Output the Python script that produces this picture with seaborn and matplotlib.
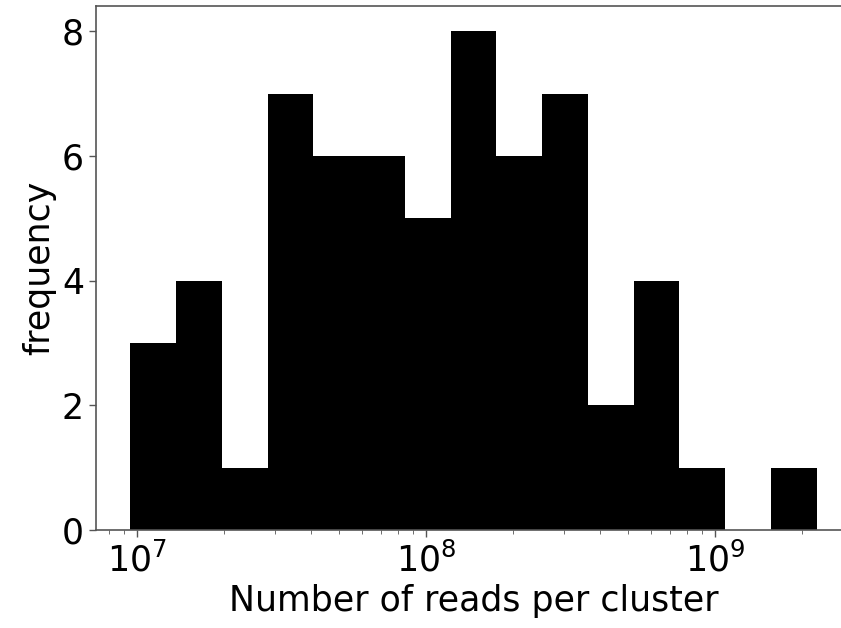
import numpy as np
import pandas as pd
import matplotlib
matplotlib.use("Agg")
import matplotlib.pyplot as plt
import seaborn as sns

# Histogram data (log-spaced bins)
log_min = 6.976   # log10 of smallest value (~9.5e6)
log_max = 9.353   # log10 of largest value (~2.25e9)
n_bins = 15
counts = [3, 4, 1, 7, 6, 6, 5, 8, 6, 7, 2, 4, 1, 0, 1]

edges_log = np.linspace(log_min, log_max, n_bins + 1)
centers = 10 ** ((edges_log[:-1] + edges_log[1:]) / 2)
df = pd.DataFrame({"reads": centers, "count": counts})

sns.set_style("ticks")
plt.rcParams["font.family"] = ["DejaVu Sans"]
plt.rcParams["text.color"] = "black"
plt.rcParams["axes.labelcolor"] = "black"
plt.rcParams["xtick.labelcolor"] = "black"
plt.rcParams["ytick.labelcolor"] = "black"

fig = plt.figure(figsize=(8.41, 6.28), dpi=100)
ax = fig.add_axes([0.114, 0.156, 0.898, 0.834])

sns.histplot(data=df, x="reads", weights="count", bins=n_bins,
             binrange=(log_min, log_max), log_scale=True, color="black",
             alpha=1, edgecolor="black", linewidth=0, ax=ax)

ax.set_xlabel("Number of reads per cluster", fontsize=25, color="black")
ax.set_ylabel("frequency", fontsize=25, color="black")
ax.tick_params(axis="both", which="major", labelsize=25, length=5, width=1,
               color="#555555", labelcolor="black")
ax.tick_params(axis="x", which="minor", length=3, color="#555555")
ax.set_yticks([0, 2, 4, 6, 8])
for s in ax.spines.values():
    s.set_color("#555555")
    s.set_linewidth(1.2)
ax.spines["right"].set_visible(False)

fig.savefig("out.png", dpi=100)
